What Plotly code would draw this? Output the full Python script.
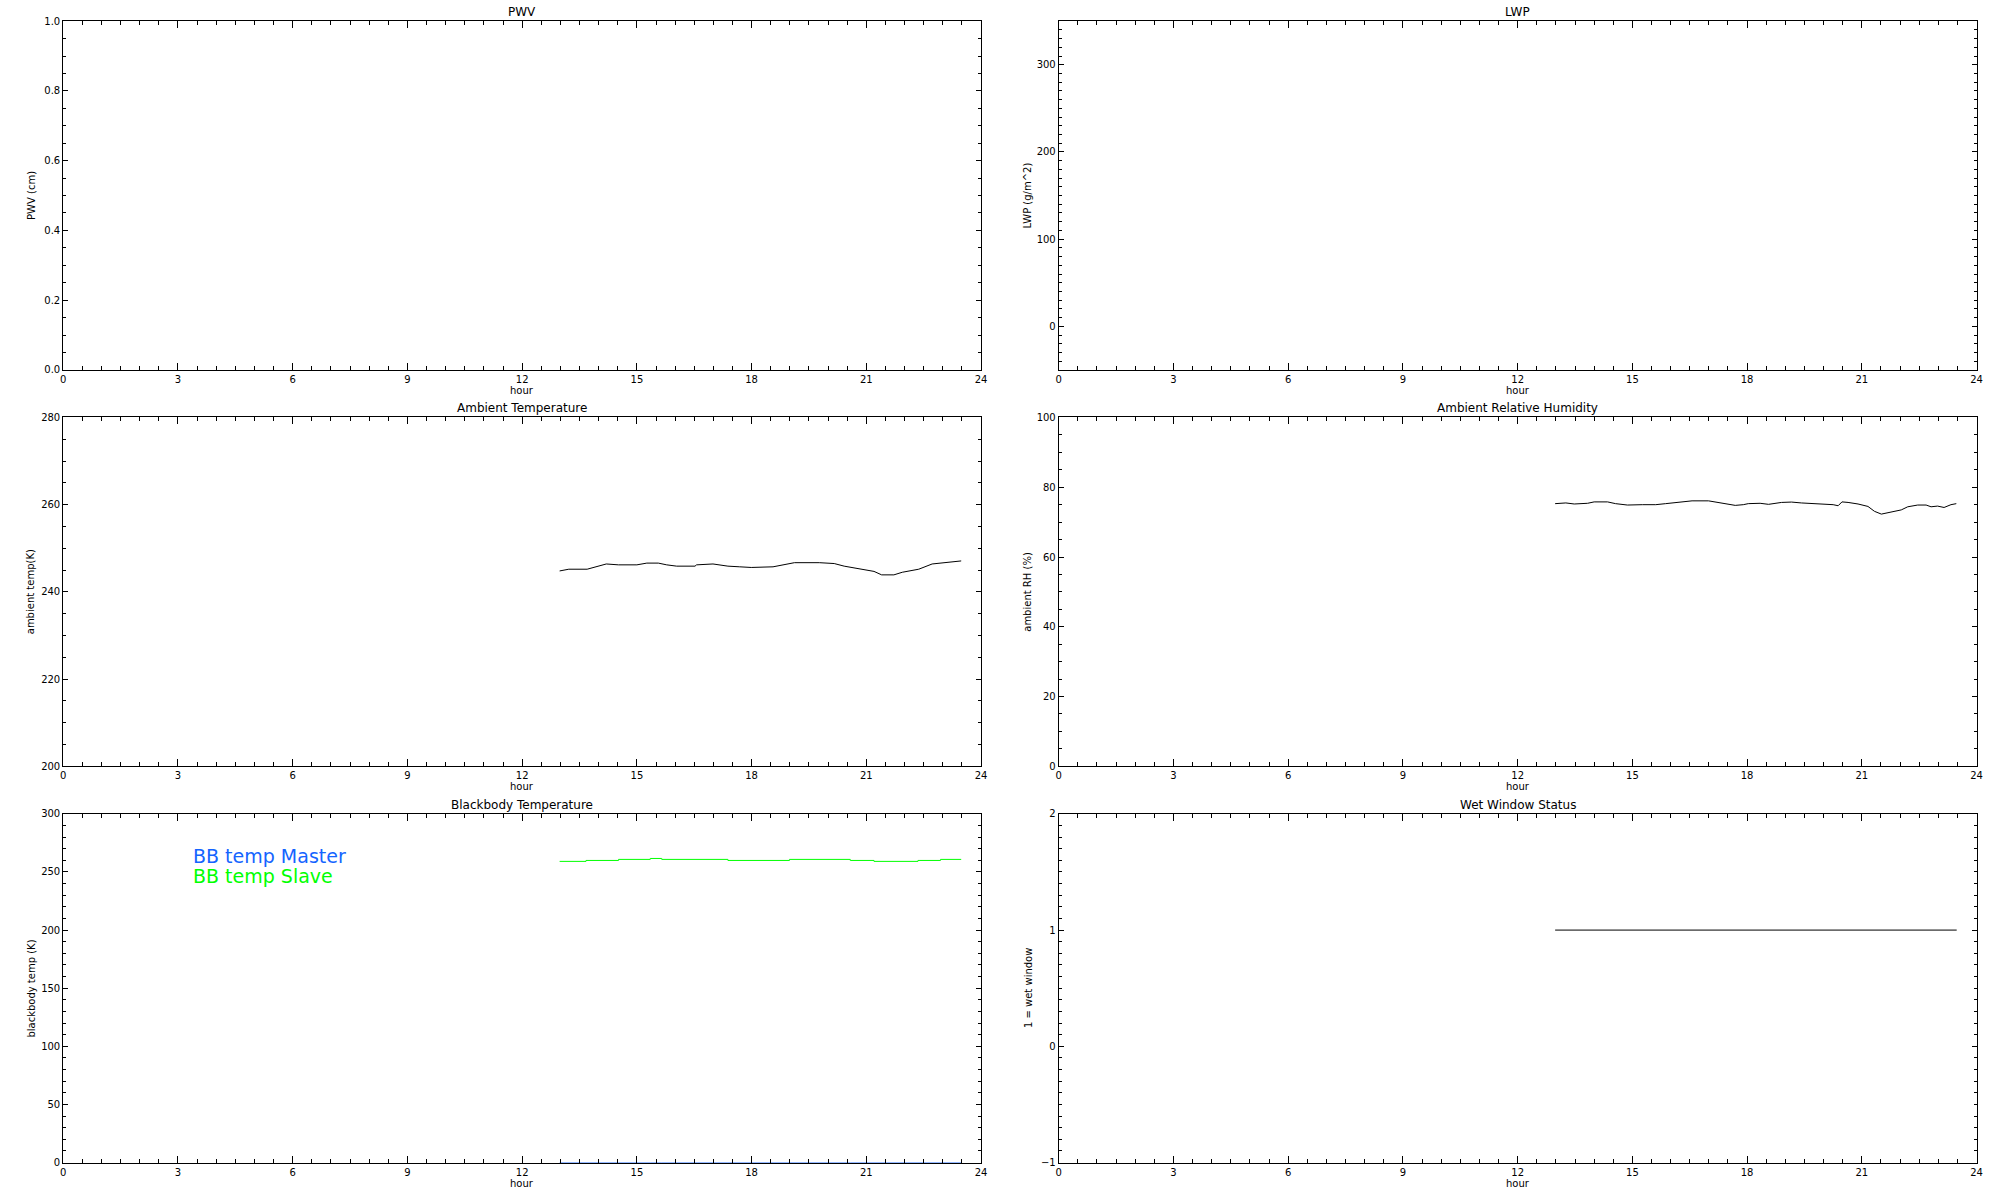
import plotly.graph_objects as go

# ---------------- data ----------------
hours_pwv = []
pwv_cm = []

hours_lwp = []
lwp_gm2 = []

hours_temp = [12.98, 13.22, 13.70, 13.87, 14.04, 14.20, 14.52, 15.00, 15.26, 15.56, 15.78,
              16.04, 16.52, 16.56, 16.99, 17.17, 17.38, 17.69, 17.99, 18.56, 18.82, 19.12,
              19.77, 20.16, 20.42, 20.64, 20.98, 21.20, 21.40, 21.72, 21.94, 22.37, 22.72,
              23.03, 23.28, 23.48]
ambient_temp_k = [244.8, 245.2, 245.2, 245.6, 246.0, 246.4, 246.2, 246.2, 246.6, 246.6, 246.2,
                  245.9, 245.9, 246.2, 246.4, 246.2, 245.9, 245.75, 245.6, 245.75, 246.2, 246.7,
                  246.7, 246.5, 245.9, 245.6, 245.1, 244.7, 243.9, 243.9, 244.5, 245.2, 246.4,
                  246.7, 246.8, 247.1]

hours_rh = [12.98, 13.26, 13.48, 13.83, 14.00, 14.35, 14.56, 14.87, 15.26, 15.61, 15.87,
            16.04, 16.30, 16.56, 16.99, 17.17, 17.43, 17.69, 17.90, 18.03, 18.34, 18.56,
            18.90, 19.16, 19.42, 19.68, 19.99, 20.25, 20.38, 20.48, 20.64, 20.90, 21.16,
            21.33, 21.51, 21.64, 21.77, 22.03, 22.20, 22.46, 22.68, 22.81, 22.98, 23.15,
            23.33, 23.47]
ambient_rh_pct = [75.3, 75.5, 75.2, 75.4, 75.8, 75.8, 75.3, 74.9, 75.0, 75.0, 75.3,
                  75.5, 75.75, 76.1, 76.1, 75.75, 75.2, 74.8, 75.0, 75.3, 75.4, 75.1,
                  75.65, 75.75, 75.5, 75.4, 75.2, 75.0, 74.7, 75.8, 75.65, 75.2, 74.5,
                  73.1, 72.3, 72.6, 73.1, 73.5, 74.4, 74.9, 74.9, 74.4, 74.6, 74.2,
                  75.0, 75.3]

hours_bb = [12.98, 13.67, 14.52, 15.35, 15.65, 17.38, 18.99, 20.58, 21.20, 22.35, 22.94, 23.48]
bb_master_k = [0.0, 0.0, 0.0, 0.0, 0.0, 0.0, 0.0, 0.0, 0.0, 0.0, 0.0, 0.0]
bb_slave_k = [259.1, 259.9, 260.8, 261.6, 260.8, 259.9, 260.8, 259.9, 259.1, 259.9, 260.8, 260.8]

hours_wet = [12.98, 23.48]
wet_window = [1, 1]

panel_titles = ["PWV", "LWP", "Ambient Temperature", "Ambient Relative Humidity",
                "Blackbody Temperature", "Wet Window Status"]
y_titles = ["PWV (cm)", "LWP (g/m^2)", "ambient temp(K)", "ambient RH (%)",
            "blackbody temp (K)", "1 = wet window"]
y_ranges = [[0, 1], [-50, 350], [200, 280], [0, 100], [0, 300], [-1, 2]]
y_dticks = [0.2, 100, 20, 20, 50, 1]
y_minor = [0.05, 10, 5, 5, 10, 0.1]
y_formats = [".1f", "d", "d", "d", "d", "d"]

BLUE = "#1464FF"
GREEN = "#00FF00"
FONT = "DejaVu Sans"

# ---------------- layout geometry ----------------
W, H = 2000, 1200


def px_x(p):
    return p / W


def px_y(p):
    return 1 - p / H


x_doms = [[px_x(60.5), px_x(982.5)], [px_x(1060.5), px_x(1982.5)]]
row_px = [(15.3, 367.3), (415.3, 767.3), (815.3, 1167.3)]
y_doms = [[px_y(b), px_y(t)] for t, b in row_px]
ytitle_x = [px_x(28.5), px_x(1029.5)]

fig = go.Figure()

line = dict(color="black", width=1)
fig.add_trace(go.Scatter(x=hours_pwv, y=pwv_cm, mode="lines", line=line, xaxis="x", yaxis="y"))
fig.add_trace(go.Scatter(x=hours_lwp, y=lwp_gm2, mode="lines", line=line, xaxis="x2", yaxis="y2"))
fig.add_trace(go.Scatter(x=hours_temp, y=ambient_temp_k, mode="lines", line=line,
                         xaxis="x3", yaxis="y3"))
fig.add_trace(go.Scatter(x=hours_rh, y=ambient_rh_pct, mode="lines", line=line,
                         xaxis="x4", yaxis="y4"))
fig.add_trace(go.Scatter(x=hours_bb, y=bb_master_k, mode="lines", line_shape="hv",
                         line=dict(color=BLUE, width=1), xaxis="x5", yaxis="y5",
                         name="BB temp Master", cliponaxis=False))
fig.add_trace(go.Scatter(x=hours_bb, y=bb_slave_k, mode="lines", line_shape="hv",
                         line=dict(color=GREEN, width=1), xaxis="x5", yaxis="y5",
                         name="BB temp Slave"))
fig.add_trace(go.Scatter(x=hours_wet, y=wet_window, mode="lines", line=line,
                         xaxis="x6", yaxis="y6"))

layout = dict(
    width=W, height=H,
    margin=dict(l=0, r=0, t=0, b=0),
    paper_bgcolor="white", plot_bgcolor="white",
    showlegend=False,
    font=dict(family=FONT, color="black", size=10),
)

annotations = []
for i in range(6):
    col = i % 2
    row = i // 2
    sx = "" if i == 0 else str(i + 1)
    layout["xaxis" + sx] = dict(
        domain=x_doms[col], anchor="y" + sx, range=[0, 24],
        tickmode="linear", tick0=0, dtick=3,
        ticks="inside", ticklen=7, tickwidth=1, tickcolor="black",
        minor=dict(tickmode="linear", tick0=0, dtick=0.5, ticks="inside", ticklen=4,
                   tickwidth=1, tickcolor="black", showgrid=False),
        showline=True, linecolor="black", linewidth=1, mirror="allticks",
        showgrid=False, zeroline=False,
        tickfont=dict(family=FONT, size=10, color="black"),
    )
    layout["yaxis" + sx] = dict(
        domain=y_doms[row], anchor="x" + sx, range=y_ranges[i],
        tickmode="linear", tick0=0, dtick=y_dticks[i], tickformat=y_formats[i],
        ticks="inside", ticklen=5, tickwidth=1, tickcolor="black",
        minor=dict(tickmode="linear", tick0=0, dtick=y_minor[i], ticks="inside", ticklen=3,
                   tickwidth=1, tickcolor="black", showgrid=False),
        showline=True, linecolor="black", linewidth=1, mirror="allticks",
        showgrid=False, zeroline=False,
        tickfont=dict(family=FONT, size=10, color="black"),
    )
    xd = ("x" if i == 0 else "x" + sx) + " domain"
    yd = ("y" if i == 0 else "y" + sx) + " domain"
    # panel title
    annotations.append(dict(text=panel_titles[i], xref=xd, yref=yd, x=0.5, y=1,
                            xanchor="center", yanchor="bottom", yshift=0, showarrow=False,
                            font=dict(family=FONT, size=12, color="black")))
    # x axis title
    annotations.append(dict(text="hour", xref=xd, yref=yd, x=0.5, y=0,
                            xanchor="center", yanchor="top", yshift=-13, showarrow=False,
                            font=dict(family=FONT, size=10, color="black")))
    # y axis title
    annotations.append(dict(text=y_titles[i], xref="paper", yref=yd, x=ytitle_x[col], y=0.5,
                            xanchor="center", yanchor="middle", textangle=-90,
                            showarrow=False, font=dict(family=FONT, size=10, color="black")))

# legend texts inside the blackbody panel
annotations.append(dict(text="BB temp Master", xref="paper", yref="paper",
                        x=px_x(190), y=px_y(857.5), xanchor="left", yanchor="middle",
                        showarrow=False, borderpad=0,
                        font=dict(family=FONT, size=19, color=BLUE)))
annotations.append(dict(text="BB temp Slave", xref="paper", yref="paper",
                        x=px_x(190), y=px_y(878), xanchor="left", yanchor="middle",
                        showarrow=False, borderpad=0,
                        font=dict(family=FONT, size=19, color=GREEN)))

layout["annotations"] = annotations
fig.update_layout(**layout)

# place the figure at the very top-left of the page (no default body margin)
fig.write_html("out.html",
               config={"displayModeBar": False},
               post_script="document.body.style.margin='0px';"
                           "document.body.style.overflow='hidden';")
